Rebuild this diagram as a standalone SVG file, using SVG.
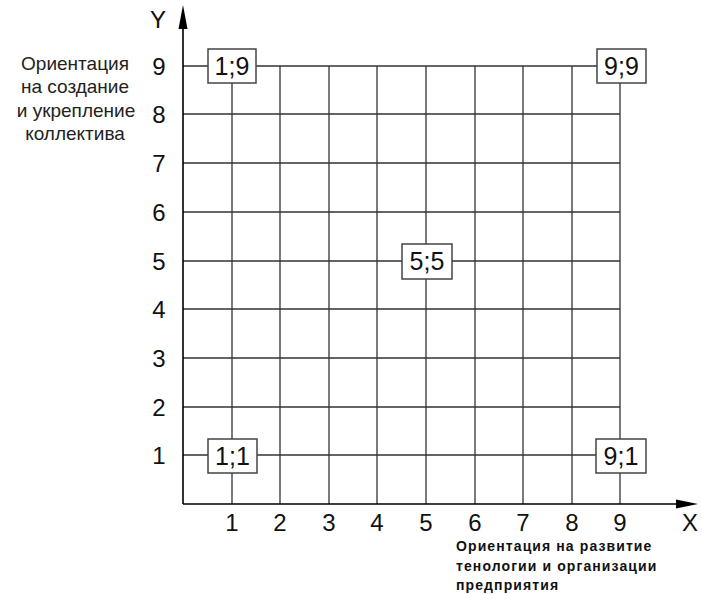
<svg xmlns="http://www.w3.org/2000/svg" width="702" height="594" viewBox="0 0 702 594">
<style>
.grid{stroke:#333;stroke-width:1.3;fill:none}
.axis{stroke:#000;stroke-width:1.6;fill:none}
.num{font-family:"Liberation Sans",Arial,sans-serif;font-size:24px;fill:#111;text-anchor:middle}
.box rect{fill:#fff;stroke:#444;stroke-width:1.5}
.box text{font-family:"Liberation Sans",Arial,sans-serif;font-size:25px;fill:#111;text-anchor:middle}
.lbl{font-family:"Liberation Sans",Arial,sans-serif;font-size:19px;fill:#222;text-anchor:middle}
.lblx{font-family:"Liberation Sans",Arial,sans-serif;font-size:14px;font-weight:bold;fill:#111;letter-spacing:1.1px}
</style>
<rect width="702" height="594" fill="#fff"/>
<g id="grid" class="grid">
<path d="M232 504V66M280 504V66M329 504V66M377 504V66M426 504V66M475 504V66M523 504V66M572 504V66M620 504V66"/>
<path d="M183 455H620M183 407H620M183 358H620M183 309H620M183 261H620M183 212H620M183 163H620M183 114H620M183 66H620"/>
</g>
<g id="axes">
<path class="axis" d="M183 504V24M183 504H682"/>
<polygon points="183,5 178.5,29 187.5,29" fill="#000"/>
<polygon points="698,504 676,499.5 676,508.5" fill="#000"/>
</g>
<g id="ylabels" class="num">
<text x="159" y="464">1</text>
<text x="159" y="416">2</text>
<text x="159" y="367">3</text>
<text x="159" y="318">4</text>
<text x="159" y="270">5</text>
<text x="159" y="221">6</text>
<text x="159" y="172">7</text>
<text x="159" y="123">8</text>
<text x="159" y="75">9</text>
<text x="158" y="28">Y</text>
</g>
<g id="xlabels" class="num">
<text x="232" y="531">1</text>
<text x="280" y="531">2</text>
<text x="329" y="531">3</text>
<text x="377" y="531">4</text>
<text x="426" y="531">5</text>
<text x="475" y="531">6</text>
<text x="523" y="531">7</text>
<text x="572" y="531">8</text>
<text x="620" y="531">9</text>
<text x="690" y="531">X</text>
</g>
<g id="p19" class="box"><rect x="208" y="49" width="48" height="34"/><text x="232" y="75">1;9</text></g>
<g id="p99" class="box"><rect x="597" y="49" width="49" height="34"/><text x="621.5" y="75">9;9</text></g>
<g id="p55" class="box"><rect x="402" y="244" width="50" height="35"/><text x="427" y="270">5;5</text></g>
<g id="p11" class="box"><rect x="208" y="439" width="49" height="34"/><text x="232.5" y="465">1;1</text></g>
<g id="p91" class="box"><rect x="596" y="439" width="50" height="34"/><text x="621" y="465">9;1</text></g>
<g id="ytitle" class="lbl">
<text x="75" y="70">Ориентация</text>
<text x="75" y="93">на создание</text>
<text x="76" y="117">и укрепление</text>
<text x="75" y="140">коллектива</text>
</g>
<g id="xtitle" class="lblx">
<text x="456" y="551">Ориентация на развитие</text>
<text x="456" y="571">тенологии и организации</text>
<text x="456" y="590">предприятия</text>
</g>
</svg>
